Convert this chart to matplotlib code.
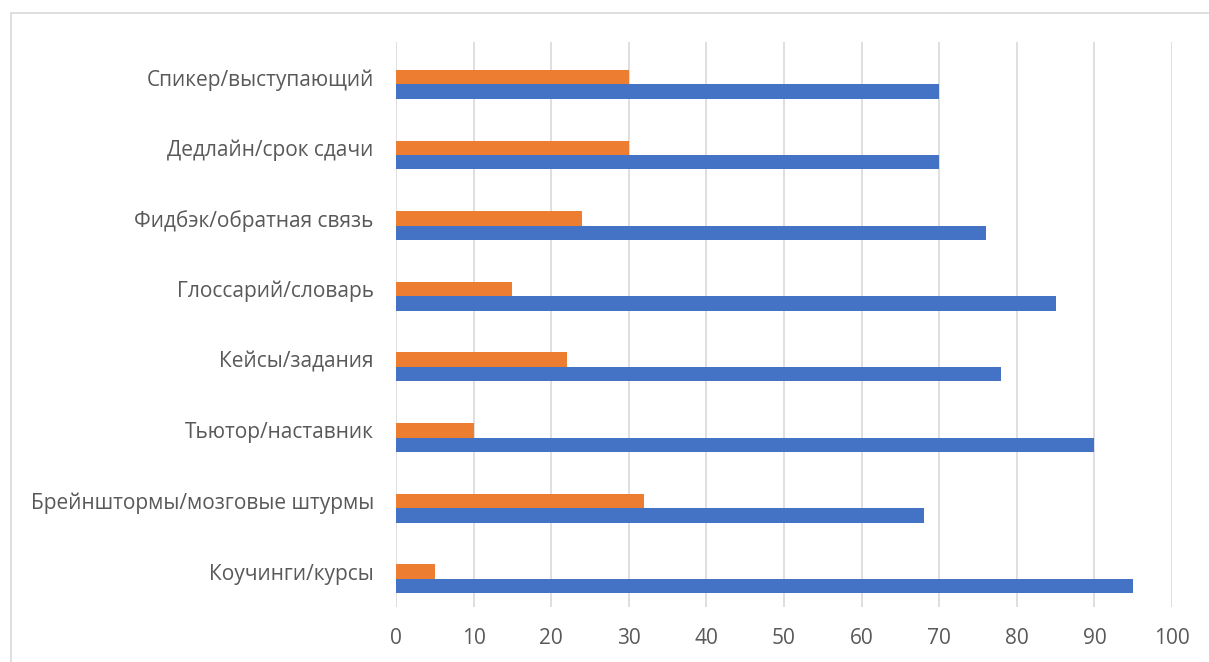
import matplotlib
matplotlib.use("Agg")
import matplotlib.pyplot as plt
import numpy as np
from matplotlib.patches import Rectangle

categories = [
    "Коучинги/курсы",
    "Брейнштормы/мозговые штурмы",
    "Тьютор/наставник",
    "Кейсы/задания",
    "Глоссарий/словарь",
    "Фидбэк/обратная связь",
    "Дедлайн/срок сдачи",
    "Спикер/выступающий",
]
series_blue = [95, 68, 90, 78, 85, 76, 70, 70]
series_orange = [5, 32, 10, 22, 15, 24, 30, 30]
x_ticks = [0, 10, 20, 30, 40, 50, 60, 70, 80, 90, 100]

plt.rcParams['font.family'] = ['Open Sans', 'DejaVu Sans']

W, H = 1209, 662
fig = plt.figure(figsize=(W / 100, H / 100), dpi=100)
fig.patch.set_facecolor("white")

# chart frame
fig.patches.append(Rectangle((11 / W, -0.1), 1.2, (H - 13) / H + 0.1,
                             transform=fig.transFigure, fill=False,
                             edgecolor="#D9D9D9", linewidth=1.2))

ax = fig.add_axes([396 / W, (H - 607) / H, (1172 - 396) / W, (607 - 42) / H])
y = np.arange(len(categories))
h = 0.205
shift = 0.1  # bar pair sits slightly below the category label
ax.barh(y - shift - h / 2, series_blue, height=h, color="#4472C4", zorder=3)
ax.barh(y - shift + h / 2, series_orange, height=h, color="#ED7D31", zorder=3)

ax.set_xlim(0, 100)
ax.set_ylim(-0.5, len(categories) - 0.5)
ax.set_xticks(x_ticks)
ax.set_yticks(y)
ax.set_yticklabels(categories)
ax.tick_params(axis="both", length=0, labelsize=15, labelcolor="#595959")
ax.tick_params(axis="x", pad=15)
ax.tick_params(axis="y", pad=16)
ax.grid(axis="x", color="#D9D9D9", linewidth=1.2, zorder=0)
for s in ax.spines.values():
    s.set_visible(False)

fig.savefig("out.png", dpi=100)
